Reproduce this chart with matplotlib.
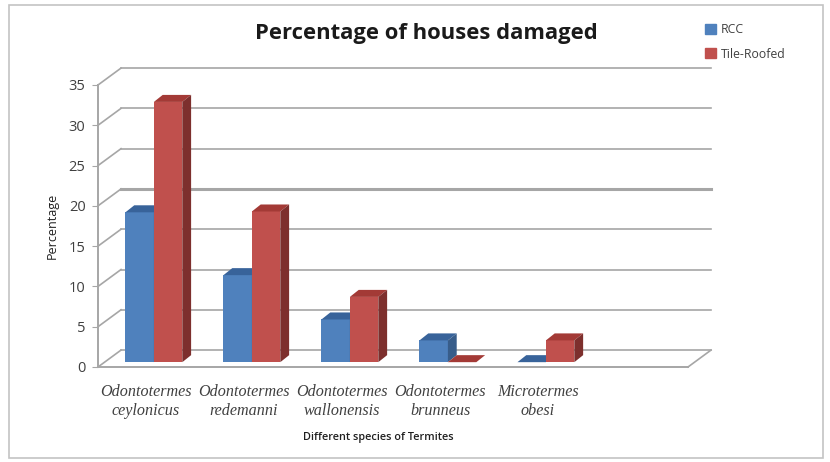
import matplotlib
matplotlib.use("agg")
import matplotlib.pyplot as plt
import numpy as np
from matplotlib.patches import Patch

species = ["Odontotermes\nceylonicus", "Odontotermes\nredemanni", "Odontotermes\nwallonensis",
           "Odontotermes\nbrunneus", "Microtermes\nobesi"]
rcc = [18.6, 10.8, 5.3, 2.7, 0]
tile = [32.3, 18.7, 8.1, 0, 2.7]
yticks = [0, 5, 10, 15, 20, 25, 30, 35]

gray = "#a6a6a6"
width = 0.29
wall_dx, wall_dy = 0.235, 2.1   # depth of the back wall
bar_dx, bar_dy = 0.09, 0.87     # depth of a bar
base = 0.6                      # bars stand a little behind the front edge


def bar3d(ax, x, val, front, top, side):
    ax.bar(x, val, width, bottom=base, align="edge", color=front, zorder=3)
    h = base + val
    ax.fill([x, x + width, x + width + bar_dx, x + bar_dx],
            [h, h, h + bar_dy, h + bar_dy], color=top, lw=0, zorder=3, clip_on=False)
    ax.fill([x + width, x + width + bar_dx, x + width + bar_dx, x + width],
            [base, base + bar_dy, h + bar_dy, h], color=side, lw=0, zorder=3, clip_on=False)


fig = plt.figure(figsize=(8.3, 4.62), dpi=100)
plt.rcParams["font.family"] = "Open Sans"
ax = fig.add_axes([98 / 830, 1 - 367 / 462, 590 / 830, 282 / 462])
ax.set_xlim(-0.57, 5.45)
ax.set_ylim(0, 35)
ax.patch.set_alpha(0)

# outer frame of the chart
fig.add_artist(plt.Rectangle((9 / 830, 4 / 462), 814 / 830, 453 / 462, fill=False,
                             ec="#c4c4c4", lw=1.2, transform=fig.transFigure))

xmin, xmax = ax.get_xlim()
for t in yticks:
    lw = 2.2 if t == 20 else 1.2
    ax.plot([xmin, xmin + wall_dx], [t, t + wall_dy], color=gray, lw=1.2, zorder=1, clip_on=False)
    ax.plot([xmin + wall_dx, xmax + wall_dx], [t + wall_dy, t + wall_dy], color=gray, lw=lw,
            zorder=1, clip_on=False)
ax.plot([xmax, xmax + wall_dx], [0, wall_dy], color=gray, lw=1.2, zorder=1, clip_on=False)

x = np.arange(len(species))
for i in x:
    bar3d(ax, i - width, rcc[i], "#4f81bd", "#38639a", "#385d8a")
    bar3d(ax, i, tile[i], "#c0504d", "#a33a36", "#7d2f2d")

for s in ["top", "right"]:
    ax.spines[s].set_visible(False)
for s in ["left", "bottom"]:
    ax.spines[s].set_color(gray)
    ax.spines[s].set_linewidth(1.4)

ax.set_yticks(yticks)
ax.tick_params(axis="y", length=4, color=gray, labelsize=10.5, labelcolor="#404040", pad=5)
# labels sit a bit left of the bars, as in the original
ax.set_xticks(x - 0.08)
ax.set_xticklabels(species, family="Liberation Serif", style="italic", fontsize=11.6,
                   color="#404040", linespacing=1.3)
ax.tick_params(axis="x", length=0, pad=12)

ax.set_ylabel("Percentage", fontsize=9, color="#202020", labelpad=7)
ax.set_xlabel("Different species of Termites", fontsize=7.8, fontweight="semibold",
              color="#202020")
ax.xaxis.set_label_coords((378 - 98) / 590, -65 / 282)
fig.text(426 / 830, 1 - 33 / 462, "Percentage of houses damaged", ha="center", va="center",
         fontsize=15.8, fontweight="bold", color="#1a1a1a")

handles = [Patch(color="#4f81bd"), Patch(color="#c0504d")]
fig.legend(handles, ["RCC", "Tile-Roofed"], loc="upper left", bbox_to_anchor=(694 / 830, 1 - 12 / 462),
           frameon=False, fontsize=8.8, labelcolor="#404040", handlelength=0.9, handleheight=0.9,
           handletextpad=0.4, labelspacing=0.95)

plt.savefig("out.png", dpi=100)
